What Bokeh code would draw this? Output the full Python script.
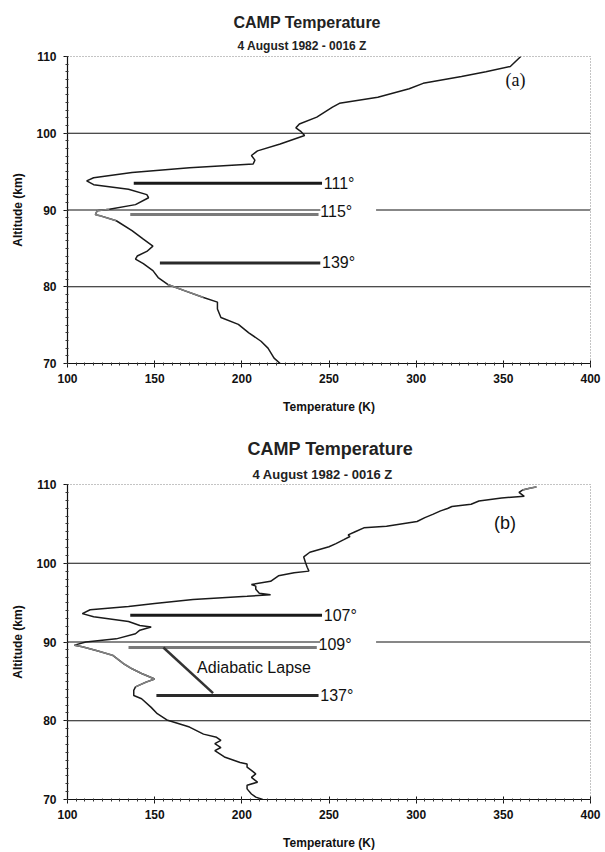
from bokeh.plotting import figure
from bokeh.layouts import column
from bokeh.models import Range1d, Label, SingleIntervalTicker, Title
from bokeh.embed import file_html
from bokeh.resources import INLINE

# ---------------- data ----------------
# Panel (a): temperature profile (K) vs altitude (km)
temp_a = [360, 354, 340, 326, 304, 296, 278, 256, 252, 243, 233, 231, 234, 236, 222, 209,
          205.5, 207.5, 206.5, 170, 137, 115, 111, 115, 135, 145.5, 146.5, 139, 124, 117,
          116, 119.5, 128, 137, 143.5, 149, 145.5, 140, 139, 143.5, 149, 152, 157.5, 167,
          178, 186, 186, 188, 198, 204, 211, 215, 218.5, 222]
alt_a = [110, 108.7, 108.0, 107.4, 106.5, 105.8, 104.7, 103.9, 103.4, 102.1, 101.2, 100.7,
         100.2, 99.7, 98.6, 97.7, 97.1, 96.5, 96.0, 95.5, 94.9, 94.2, 93.8, 93.3, 92.7, 92.0,
         91.6, 90.7, 90.1, 89.9, 89.4, 89.2, 88.6, 87.3, 86.2, 85.3, 84.6, 84.0, 83.6, 83.0,
         82.1, 81.2, 80.3, 79.5, 78.6, 78.0, 77.1, 76.0, 75.1, 74.0, 72.9, 72.0, 70.7, 70.0]

# Panel (b)
temp_b = [369, 364.5, 361, 359, 362, 349, 336, 331.5, 320.5, 318, 314, 309.5, 305, 300.5,
          283, 270, 265, 261, 262, 258.5, 254, 250, 239, 235.5, 236.5, 237.5, 238.5, 230,
          221, 216.5, 205.5, 208, 208, 210, 216.5, 203, 172, 150, 135, 113, 108.5, 115, 135,
          141.5, 148, 141.5, 139, 128, 110.5, 104, 108.5, 117, 126, 132.5, 137, 142.5, 150,
          145, 139, 138, 138, 142.5, 148, 151.5, 157, 170, 178, 185.5, 188, 184.5, 188,
          184.5, 190, 199, 203, 203, 205.5, 208, 205.5, 209, 203, 203, 205.5, 208, 212]
alt_b = [109.7, 109.5, 109.3, 109.0, 108.5, 108.3, 107.9, 107.5, 107.2, 106.95, 106.65,
         106.2, 105.8, 105.3, 104.7, 104.5, 104.0, 103.6, 103.4, 103.0, 102.5, 102.1, 101.4,
         100.8, 100.1, 99.5, 99.0, 98.8, 98.4, 97.7, 97.3, 97.1, 96.7, 96.2, 96.0, 95.8,
         95.4, 94.9, 94.5, 94.1, 93.6, 93.2, 92.6, 92.1, 91.9, 91.5, 91.05, 90.4, 90.0,
         89.6, 89.4, 88.9, 88.3, 87.2, 86.6, 86.0, 85.3, 84.9, 84.3, 83.85, 83.2, 82.8,
         81.7, 80.9, 80.1, 79.2, 78.3, 77.9, 77.5, 77.1, 76.6, 76.2, 75.4, 74.7, 74.5,
         74.1, 73.7, 73.25, 72.8, 72.2, 71.8, 71.35, 70.7, 70.3, 70.0]

# altitude bands (km) where the scanned profile trace looks gray
gray_bands_a = [(88.6, 90.1), (78.6, 80.3)]
gray_bands_b = [(84.3, 89.6), (109.3, 109.7)]

# Horizontal reference lines (km) with their temperature extents
ref_alt = [100, 90, 90, 80]
ref_t0 = [100, 100, 277, 100]
ref_t1 = [400, 245, 400, 400]

# Annotation bars
bar_alt_a = [93.5, 89.4, 83.1]
bar_t0_a = [138, 136, 153]
bar_t1_a = [246, 244, 245]
bar_lbl_a = ["111°", "115°", "139°"]
bar_lbl_alt_a = [93.5, 89.8, 83.1]

bar_alt_b = [93.4, 89.3, 83.2]
bar_t0_b = [136, 135, 151]
bar_t1_b = [246, 243, 244]
bar_lbl_b = ["107°", "109°", "137°"]
bar_lbl_alt_b = [93.4, 89.7, 83.2]

lapse_t = [155, 183.5]
lapse_alt = [89.3, 83.5]

x_ticks_interval = 50
y_ticks_interval = 10
title_text = "CAMP Temperature"
subtitle_text = "4 August 1982 - 0016 Z"

FONT = "Liberation Sans"


def make_panel(temp, alt, gray_bands, bar_alt, bar_t0, bar_t1, bar_lbl, bar_lbl_alt,
               tag, tag_pos, tag_font,
               w, h, left, right, top, bottom, title_size, sub_size, title_off, sub_off,
               title_stand, sub_stand, lapse=None):
    p = figure(output_backend="svg", toolbar_location=None,
               width=w, height=h,
               min_border_left=left, min_border_right=right,
               min_border_top=top, min_border_bottom=bottom,
               x_range=Range1d(100, 400), y_range=Range1d(70, 110))
    p.xgrid.visible = False
    p.ygrid.visible = False
    p.background_fill_color = "white"
    p.border_fill_color = "white"
    p.outline_line_color = "#888888"
    p.outline_line_dash = "1 2"
    p.outline_line_width = 1

    p.xaxis.ticker = SingleIntervalTicker(interval=x_ticks_interval, num_minor_ticks=10)
    p.yaxis.ticker = SingleIntervalTicker(interval=y_ticks_interval, num_minor_ticks=10)
    for ax in (p.xaxis[0], p.yaxis[0]):
        ax.axis_line_color = "#111111"
        ax.axis_line_width = 1.2
        ax.major_tick_line_color = "#111111"
        ax.minor_tick_line_color = "#333333"
        ax.major_tick_out = 4
        ax.minor_tick_out = 2
        ax.minor_tick_in = 1
        ax.major_label_text_font = FONT
        ax.major_label_text_font_style = "bold"
        ax.major_label_text_font_size = "12px"
        ax.major_label_text_color = "#111111"
        ax.axis_label_text_font = FONT
        ax.axis_label_text_font_style = "bold"
        ax.axis_label_text_font_size = "12px"
        ax.axis_label_text_color = "#111111"
    p.xaxis.major_tick_in = 3
    p.yaxis.major_tick_in = 0
    p.xaxis.major_label_standoff = 6
    p.xaxis.axis_label_standoff = 14
    p.yaxis.major_label_standoff = 7
    p.yaxis.axis_label_standoff = 8
    p.xaxis.axis_label = "Temperature (K)"
    p.yaxis.axis_label = "Altitude (km)"

    # titles (subtitle first: closest to the frame)
    p.add_layout(Title(text=subtitle_text, align="left", text_font=FONT,
                       text_font_style="bold", text_font_size=sub_size, text_color="#222222",
                       offset=sub_off, standoff=sub_stand), "above")
    p.add_layout(Title(text=title_text, align="left", text_font=FONT,
                       text_font_style="bold", text_font_size=title_size, text_color="#222222",
                       offset=title_off, standoff=title_stand), "above")

    # reference lines
    p.segment(x0=ref_t0, y0=ref_alt, x1=ref_t1, y1=ref_alt, line_color="#111111", line_width=1.2)

    # annotation bars
    bar_colors = ["#1a1a1a", "#7a7a7a", "#2a2a2a"]
    p.segment(x0=bar_t0, y0=bar_alt, x1=bar_t1, y1=bar_alt, line_color=bar_colors, line_width=3)
    for t1, lab, la in zip(bar_t1, bar_lbl, bar_lbl_alt):
        p.add_layout(Label(x=t1 + 1, y=la, text=lab, text_font=FONT, text_font_size="16px",
                           text_color="#111111", text_align="left", text_baseline="middle"))

    if lapse is not None:
        p.line(lapse[0], lapse[1], line_color="#333333", line_width=2.5)
        p.add_layout(Label(x=207, y=86.8, text="Adiabatic Lapse", text_font=FONT,
                           text_font_size="16px", text_color="#111111",
                           text_align="center", text_baseline="middle"))

    # profile
    p.line(temp, alt, line_color="#1a1a1a", line_width=1.5)
    for lo, hi in gray_bands:
        gt = [t for t, a in zip(temp, alt) if lo <= a <= hi]
        ga = [a for a in alt if lo <= a <= hi]
        p.line(gt, ga, line_color="#808080", line_width=1.6)

    p.add_layout(Label(x=tag_pos[0], y=tag_pos[1], text=tag, text_font=tag_font,
                       text_font_size="18px", text_color="#111111",
                       text_align="center", text_baseline="middle"))
    return p


pa = make_panel(temp_a, alt_a, gray_bands_a, bar_alt_a, bar_t0_a, bar_t1_a, bar_lbl_a,
                bar_lbl_alt_a, "(a)", (357, 107.0), "Liberation Serif",
                w=605, h=420, left=63, right=12, top=56, bottom=57,
                title_size="16px", sub_size="12px", title_off=166, sub_off=170,
                title_stand=3, sub_stand=8)

pb = make_panel(temp_b, alt_b, gray_bands_b, bar_alt_b, bar_t0_b, bar_t1_b, bar_lbl_b,
                bar_lbl_alt_b, "(b)", (351, 105.1), FONT,
                w=605, h=432, left=67, right=15, top=64, bottom=53,
                title_size="18px", sub_size="13px", title_off=180, sub_off=185,
                title_stand=5, sub_stand=6,
                lapse=(lapse_t, lapse_alt))

layout = column(pa, pb, spacing=0)
open("out.html", "w").write(file_html(layout, INLINE))
